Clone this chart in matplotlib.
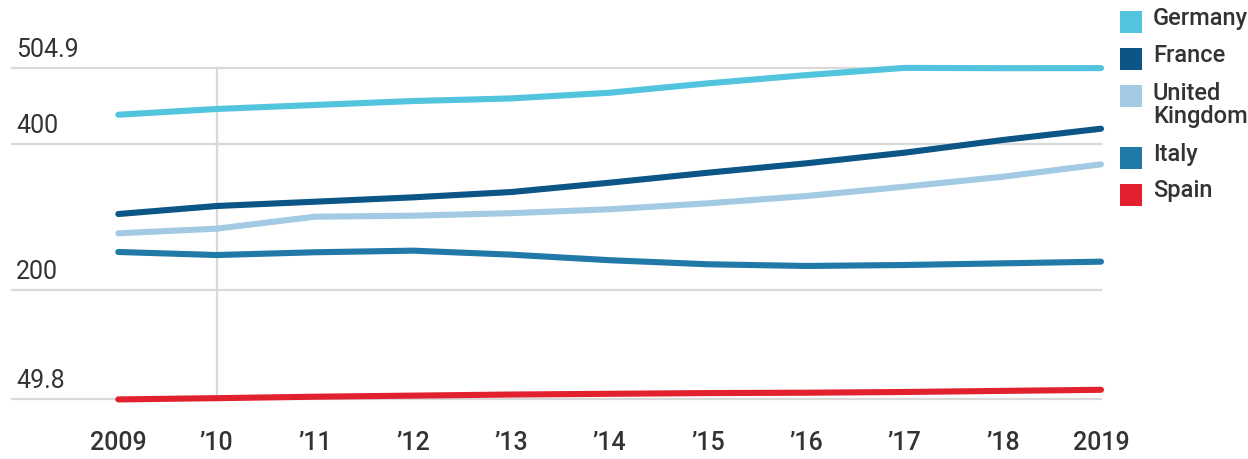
import matplotlib
matplotlib.use('Agg')
import matplotlib.pyplot as plt
import matplotlib.transforms as mtransforms
from matplotlib.patches import Rectangle

plt.rcParams['font.family'] = ['Roboto', 'DejaVu Sans']

years = list(range(2009, 2020))
year_labels = ['2009', '\u201910', '\u201911', '\u201912', '\u201913', '\u201914',
               '\u201915', '\u201916', '\u201917', '\u201918', '2019']

germany = [440.6, 448.5, 454.0, 459.4, 463.0, 470.8, 483.7, 495.0, 504.9, 504.5, 504.6]
france = [304.3, 315.3, 321.2, 327.2, 334.5, 347.3, 361.0, 373.9, 388.5, 405.9, 421.4]
uk = [277.8, 284.2, 300.6, 302.0, 305.5, 310.8, 319.0, 329.0, 341.8, 355.5, 372.5]
italy = [252.2, 248.0, 251.8, 254.0, 248.5, 240.9, 235.3, 233.0, 234.3, 236.6, 238.9]
spain = [49.8, 51.5, 53.5, 55.0, 56.5, 57.5, 58.5, 59.0, 60.0, 61.5, 63.0]

names = ['Germany', 'France', 'United\nKingdom', 'Italy', 'Spain']
series = [germany, france, uk, italy, spain]
colors = ['#52c4dd', '#0b5587', '#a2cbe3', '#2179a8', '#e2212f']

grid_values = [504.9, 400, 200, 49.8]
grid_labels = ['504.9', '400', '200', '49.8']

fig = plt.figure(figsize=(12.48, 4.59), dpi=100)
ax = fig.add_axes([0, 0, 1, 1])
ax.set_xlim(2007.796, 2020.496)
ax.set_ylim(-32.0, 598.1)
ax.axis('off')

txt = '#333333'
grid_c = '#d9d9d9'

for v, lab in zip(grid_values, grid_labels):
    ax.axhline(v, xmin=0.0096, xmax=0.882, color=grid_c, lw=1.6, zorder=1)
    tr = mtransforms.offset_copy(ax.transData, fig=fig, x=0, y=8, units='points')
    ax.text(2007.96, v, lab, transform=mtransforms.blended_transform_factory(ax.transData, tr),
            fontsize=18, color=txt, ha='left', va='baseline')

ax.plot([2010, 2010], [grid_values[-1], grid_values[0]], color=grid_c, lw=1.6, zorder=1)

for vals, c in zip(series, colors):
    ax.plot(years, vals, color=c, lw=4.4, solid_capstyle='round', solid_joinstyle='round', zorder=3)

xt = mtransforms.blended_transform_factory(ax.transData, ax.transAxes)
for y, lab in zip(years, year_labels):
    ax.text(y, 0.035, lab, transform=xt, ha='center', va='center', fontsize=18,
            color=txt, fontweight='medium')

# legend
leg_y = [22, 59, 96, 158, 195]
text_y = [19, 55, 105, 155, 191]
for n, c, sy, ty in zip(names, colors, leg_y, text_y):
    fig.add_artist(Rectangle((1120 / 1248, 1 - (sy + 11) / 459), 22 / 1248, 22 / 459,
                             transform=fig.transFigure, color=c, lw=0))
    fig.text(1153 / 1248, 1 - ty / 459, n, ha='left', va='center',
             fontsize=17, color=txt, linespacing=0.95, fontweight='medium')

fig.savefig('out.png', dpi=100)
